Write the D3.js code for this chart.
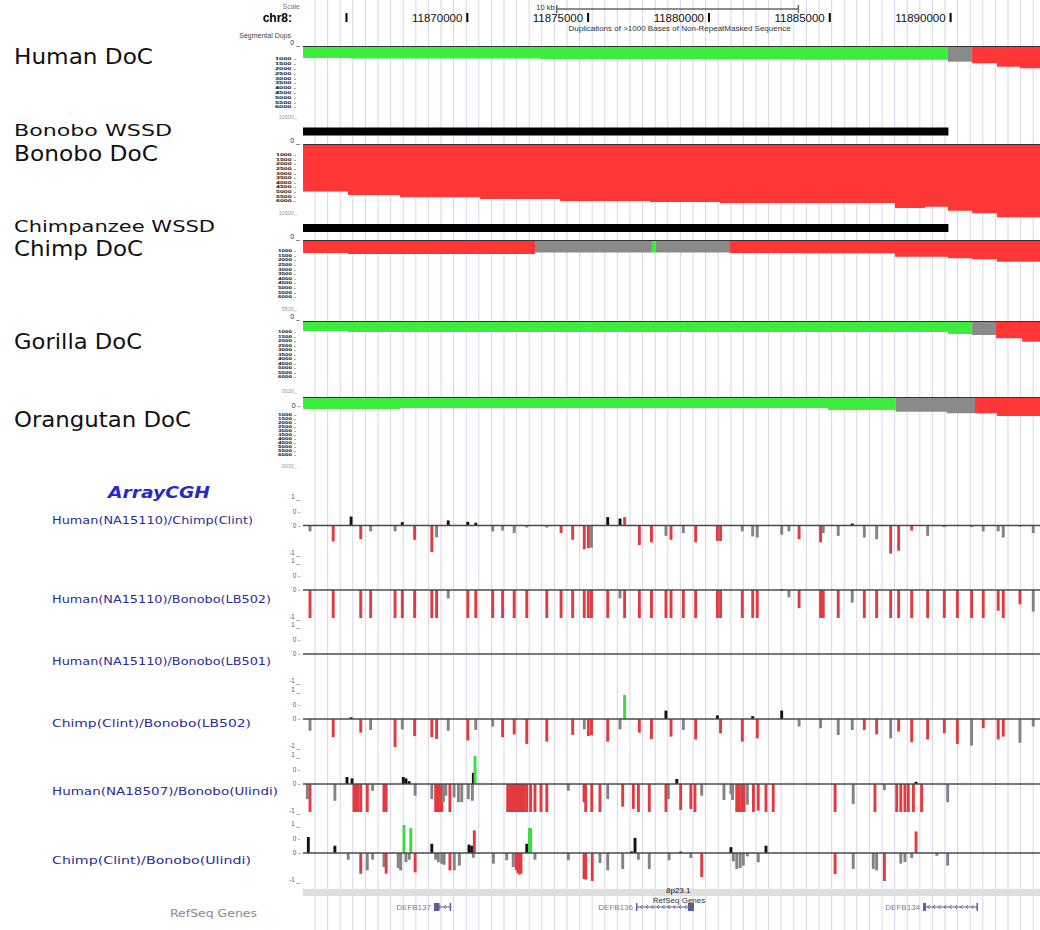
<!DOCTYPE html>
<html>
<head>
<meta charset="utf-8">
<script src="https://cdn.jsdelivr.net/npm/d3@7/dist/d3.min.js"></script>
<style>
  html, body { margin: 0; padding: 0; background: #fff; }
  svg { display: block; }
</style>
</head>
<body>
<svg id="chart" width="1040" height="930"></svg>
<script>
// ---------- browser window on chr8 (positions in kb) ----------
const viewStartKb = 11863.2;
const viewEndKb = 11893.7;
const axisTicksKb = [11865, 11870, 11875, 11880, 11885, 11890];
const axisTickLabels = ["", "11870000", "11875000", "11880000", "11885000", "11890000"];
const scaleBarKb = [11873.7, 11883.7];

// ---------- WSSD segmental duplication calls ----------
const bonoboWssd = [[11863.2, 11889.91]];
const chimpWssd = [[11863.2, 11889.91]];

// ---------- depth of coverage: step profile [start kb, depth] and calls ----------
const humanDocSteps = [[11863.2, 1200], [11865.15, 1250], [11873.01, 1300], [11879.63, 1350], [11883.77, 1380], [11889.89, 1570], [11890.89, 1730], [11891.92, 2070], [11892.87, 2230]];
const humanDocCalls = [[11863.2, 11889.89, "normal"], [11889.89, 11890.89, "mid"], [11890.89, 11893.7, "dup"]];

const bonoboDocSteps = [[11863.2, 4750], [11865.06, 5100], [11867.21, 5330], [11870.53, 5500], [11873.84, 5700], [11877.56, 5800], [11880.46, 5900], [11887.70, 6400], [11888.94, 6270], [11889.89, 6670], [11890.89, 6930], [11891.92, 7330]];
const bonoboDocCalls = [[11863.2, 11893.7, "dup"]];

const chimpDocSteps = [[11863.2, 1300], [11865.06, 1400], [11872.80, 1250], [11880.87, 1300], [11883.77, 1330], [11887.70, 1670], [11889.89, 1830], [11890.89, 1930], [11891.92, 2170]];
const chimpDocCalls = [[11863.2, 11872.80, "dup"], [11872.80, 11877.64, "mid"], [11877.64, 11877.79, "normal"], [11877.79, 11880.87, "mid"], [11880.87, 11893.7, "dup"]];

const gorillaDocSteps = [[11863.2, 1000], [11865.06, 1100], [11889.89, 1300], [11890.89, 1400], [11891.88, 1730], [11892.96, 2070]];
const gorillaDocCalls = [[11863.2, 11890.89, "normal"], [11890.89, 11891.88, "mid"], [11891.88, 11893.7, "dup"]];

const orangutanDocSteps = [[11863.2, 1200], [11867.21, 1100], [11884.93, 1300], [11887.73, 1470], [11889.84, 1630], [11891.92, 1900]];
const orangutanDocCalls = [[11863.2, 11887.73, "normal"], [11887.73, 11891.01, "mid"], [11891.01, 11893.7, "dup"]];

const docTickLabels = ["1000", "1500", "2000", "2500", "3000", "3500", "4000", "4500", "5000", "5500", "6000"];

// ---------- array CGH, platform 1 probes (kb) ----------
const probesA = [11863.49, 11864.45, 11865.19, 11865.59, 11866.00, 11867.01, 11867.31, 11867.82, 11868.53, 11868.73,
  11869.21, 11870.02, 11870.35, 11871.05, 11871.46, 11871.94, 11872.46, 11873.29, 11873.88, 11874.36,
  11874.84, 11875.01, 11875.14, 11875.81, 11876.32, 11876.51, 11877.12, 11877.62, 11878.22, 11878.43,
  11878.94, 11879.45, 11880.35, 11880.48, 11881.38, 11881.81, 11882.00, 11883.01, 11883.31, 11883.73,
  11884.62, 11884.73, 11885.35, 11885.93, 11886.43, 11886.94, 11887.52, 11887.85, 11888.39, 11889.05,
  11889.74, 11890.28, 11890.87, 11891.35, 11891.97, 11892.18, 11892.87, 11893.42];

// log2 ratios; calls: L = loss, G = gain, . = none
const humanChimpLog2 = [-0.21, -0.57, 0.32, -0.49, -0.21, -0.21, 0.12, -0.51, -0.95, -0.42,
  0.18, 0.13, 0.10, -0.21, -0.18, -0.27, -0.07, -0.07, -0.27, -0.51,
  -0.85, -0.81, -0.79, 0.30, 0.25, 0.30, -0.70, -0.60, -0.37, -0.51,
  -0.27, -0.60, -0.55, -0.55, -0.21, -0.39, -0.43, -0.33, -0.21, -0.49,
  -0.60, -0.27, -0.37, 0.07, -0.43, -0.49, -1.00, -0.90, -0.18, -0.37,
  -0.06, null, -0.06, -0.21, -0.21, -0.43, -0.04, -0.27];
const humanChimpCalls = ".L.L...LL.........LLLL...LLL.L.LLL.....LL.....LLL.........";

const humanLB502Log2 = [-1, -1, null, -1, -1, -1, -1, -1, -1, -1,
  -0.30, -1, -1, -1, -1, -1, -1, -1, -1, -1,
  -1, -1, -1, -1, -0.30, -1, -1, -1, -1, -1,
  -1, -1, -1, -1, -1, -1, -1, 0.02, -0.26, -0.65,
  -1, -1, -1, -0.45, -1, -1, -1, -1, -1, -1,
  -1, -1, -1, -1, -0.74, -1, -0.51, -0.77];
const humanLB502Calls = "LL.LLLLLLL.LLLLLLLLLLLLL.LLLLLLLLLLLL..LLLL.LLLLLLLLLLLLL.L";

const humanLB501Log2 = probesA.map(() => null);
const humanLB501Calls = "";

const chimpLB502Log2 = [-0.42, -0.65, 0.06, -0.49, -0.39, -1.00, -0.37, -0.61, -0.65, -0.71,
  -0.42, -0.77, -0.39, -0.27, -0.65, -0.55, -0.89, -0.81, null, -0.57,
  -0.37, -0.61, -0.58, -0.81, -0.37, 0.86, -0.49, -0.72, 0.30, -0.63,
  -0.39, -0.73, 0.13, -0.51, -0.81, 0.10, -0.69, 0.30, null, -0.27,
  -0.33, null, -0.57, -0.39, -0.39, -0.55, -0.69, -0.45, -0.83, -0.73,
  -0.51, -0.89, -0.95, -0.33, -0.73, -0.63, -0.85, -0.27];
const chimpLB502Calls = ".L.L.L.LLL.L..LLLL.L.LLL.GLL.L.L.LL.L....L..LL.LLLLL.LLL.";

// ---------- array CGH, platform 2 (Ulindi): [kb, log2, call] ----------
const humanUlindi = [[11863.38,-0.54,"."],[11863.49,-1,"L"],[11864.52,-0.6,"."],[11865.02,0.25,"."],[11865.23,0.2,"."],[11865.31,-1,"L"],[11865.39,-1,"L"],[11865.48,-1,"L"],[11865.59,-1,"L"],[11865.86,-1,"L"],[11866.08,-0.24,"."],[11866.55,-1,"L"],[11866.64,-1,"L"],[11867.35,0.25,"."],[11867.46,0.2,"."],[11867.59,0.1,"."],[11867.84,-0.42,"."],[11868.53,-0.54,"."],[11868.69,-1,"L"],[11868.77,-1,"L"],[11868.87,-1,"L"],[11868.94,-1,"L"],[11869.01,-0.65,"."],[11869.11,-0.42,"."],[11869.28,-1,"L"],[11869.45,-0.48,"."],[11869.63,-0.65,"."],[11869.77,-0.65,"."],[11870.04,-0.54,"."],[11870.21,-0.6,"."],[11870.25,0.4,"."],[11870.32,1,"G"],[11871.67,-1,"L"],[11871.77,-1,"L"],[11871.86,-1,"L"],[11871.94,-1,"L"],[11872.02,-1,"L"],[11872.11,-1,"L"],[11872.18,-1,"L"],[11872.28,-1,"L"],[11872.36,-1,"L"],[11872.46,-1,"L"],[11872.62,-1,"L"],[11872.80,-1,"L"],[11873.05,-1,"L"],[11873.29,-1,"L"],[11874.18,-0.24,"."],[11874.83,-0.65,"L"],[11874.90,-1,"L"],[11875.15,-1,"L"],[11875.49,-1,"L"],[11875.81,-0.54,"."],[11876.43,-0.81,"L"],[11876.87,-0.89,"L"],[11877.08,-1,"L"],[11877.53,-1,"L"],[11878.22,-1,"L"],[11878.32,-0.54,"."],[11878.67,0.18,"."],[11878.83,-0.93,"L"],[11879.25,-0.89,"L"],[11879.42,-1,"L"],[11879.70,-0.42,"."],[11880.62,-0.57,"."],[11880.91,-0.36,"."],[11880.98,-0.57,"."],[11881.15,-1,"L"],[11881.24,-1,"L"],[11881.35,-1,"L"],[11881.45,-1,"L"],[11881.59,-0.74,"."],[11881.84,-1,"L"],[11882.04,-0.95,"L"],[11882.36,-1,"L"],[11882.66,-1,"L"],[11885.22,-1,"L"],[11885.97,-0.71,"."],[11886.87,-1,"L"],[11887.26,-0.22,"."],[11887.77,-1,"L"],[11887.94,-1,"L"],[11888.11,-1,"L"],[11888.25,-1,"L"],[11888.46,-1,"L"],[11888.57,0.08,"."],[11888.80,-1,"L"],[11889.88,-0.65,"."]];

const chimpUlindi = [[11863.42,0.57,"."],[11864.52,0.26,"."],[11865.07,-0.24,"."],[11865.59,-0.74,"L"],[11865.86,-0.62,"."],[11866.08,-0.24,"."],[11866.55,-0.5,"."],[11866.64,-0.74,"L"],[11867.14,-0.54,"."],[11867.24,-0.62,"."],[11867.38,1,"G"],[11867.46,-0.33,"."],[11867.60,-0.24,"."],[11867.66,0.89,"G"],[11867.84,-0.69,"L"],[11868.53,0.33,"."],[11868.69,-0.24,"."],[11868.80,-0.33,"."],[11868.94,-0.38,"."],[11869.04,-0.42,"."],[11869.28,-0.62,"L"],[11869.46,-0.62,"."],[11869.67,-0.45,"."],[11870.07,0.3,"."],[11870.18,0.26,"."],[11870.25,-0.17,"."],[11870.29,0.81,"L"],[11871.08,-0.38,"."],[11871.63,-0.26,"."],[11871.90,-0.5,"."],[11872.02,-0.6,"L"],[11872.09,-0.71,"L"],[11872.15,-0.77,"L"],[11872.22,-0.74,"L"],[11872.46,0.33,"."],[11872.57,0.89,"G"],[11872.62,0.89,"G"],[11872.80,-0.24,"."],[11874.18,-0.26,"."],[11874.83,-0.93,"L"],[11874.90,-0.95,"L"],[11875.17,-1,"L"],[11875.49,-0.36,"."],[11875.81,-0.62,"."],[11876.43,-0.57,"."],[11876.80,0.06,"."],[11876.94,0.54,"."],[11877.08,-0.24,"."],[11877.53,-0.57,"."],[11878.35,-0.26,"."],[11878.83,0.05,"."],[11879.25,-0.18,"."],[11879.70,-0.86,"L"],[11880.91,0.21,"."],[11881.01,-0.3,"."],[11881.15,-0.57,"."],[11881.29,-0.54,"."],[11881.42,-0.45,"."],[11881.59,-0.12,"."],[11882.04,-0.33,"."],[11882.36,0.26,"."],[11885.22,-0.75,"L"],[11885.97,-0.57,"."],[11886.80,-0.57,"."],[11886.94,-0.62,"."],[11887.26,-1,"L"],[11887.94,-0.38,"."],[11888.11,-0.32,"."],[11888.39,-0.18,"."],[11888.57,0.77,"L"],[11889.43,-0.1,"."],[11889.88,-0.45,"."]];

const cghNames = ["Human(NA15110)/Chimp(Clint)", "Human(NA15110)/Bonobo(LB502)", "Human(NA15110)/Bonobo(LB501)",
  "Chimp(Clint)/Bonobo(LB502)", "Human(NA18507)/Bonobo(Ulindi)", "Chimp(Clint)/Bonobo(Ulindi)"];
const cghAxisLabels = ["1 _", "0 -", "0 -", "-1 _"];

// ---------- RefSeq genes: name, tx start, tx end, exons ----------
const genes = [
  { name: "DEFB137", start: 11868.62, end: 11869.33, exons: [[11868.62, 11868.85], [11869.27, 11869.33]] },
  { name: "DEFB136", start: 11876.98, end: 11879.38, exons: [[11876.98, 11877.03], [11879.13, 11879.38]] },
  { name: "DEFB134", start: 11888.86, end: 11891.13, exons: [[11888.86, 11888.98], [11891.07, 11891.13]] }
];

// ======================================================================
const svg = d3.select("#chart");
const x = d3.scaleLinear().domain([viewStartKb, viewEndKb]).range([303, 1040]);
const SANS = "'Liberation Sans', Arial, sans-serif";
const LABEL_FONT = "'DejaVu Sans', Verdana, sans-serif";

svg.append("defs").append("clipPath").attr("id", "data")
  .append("rect").attr("x", 303).attr("y", 0).attr("width", 737).attr("height", 930);

// vertical guidelines
const guides = svg.append("g").attr("stroke", "#d9d9ec").attr("stroke-width", 1.1);
d3.range(315, 1040, 12.6).forEach(gx => {
  guides.append("line").attr("x1", gx).attr("x2", gx).attr("y1", 0).attr("y2", 930);
});

// ---------- header: base position ruler ----------
const hdr = svg.append("g").attr("font-family", SANS);
hdr.append("text").attr("x", 300).attr("y", 9).attr("text-anchor", "end")
  .attr("font-size", 7).attr("fill", "#777").text("Scale");
hdr.append("text").attr("x", 292).attr("y", 22).attr("text-anchor", "end")
  .attr("font-size", 12).attr("font-weight", "bold").text("chr8:");
hdr.append("text").attr("x", 291).attr("y", 38).attr("text-anchor", "end")
  .attr("font-size", 7).attr("fill", "#444").text("Segmental Dups");
axisTicksKb.forEach((t, i) => {
  const tx = x(t);
  hdr.append("rect").attr("x", tx - 1).attr("y", 13).attr("width", 2).attr("height", 9).attr("fill", "#000");
  if (axisTickLabels[i]) {
    hdr.append("text").attr("x", tx - 5).attr("y", 22).attr("text-anchor", "end")
      .attr("font-size", 11.5).attr("fill", "#111").text(axisTickLabels[i]);
  }
});
const sb0 = x(scaleBarKb[0]), sb1 = x(scaleBarKb[1]);
hdr.append("line").attr("x1", sb0).attr("x2", sb1).attr("y1", 9).attr("y2", 9).attr("stroke", "#666").attr("stroke-width", 1.5);
[sb0, sb1].forEach(sx => hdr.append("line").attr("x1", sx).attr("x2", sx).attr("y1", 5).attr("y2", 13).attr("stroke", "#666").attr("stroke-width", 1.5));
hdr.append("text").attr("x", sb0 - 2).attr("y", 10).attr("text-anchor", "end").attr("font-size", 7.5).attr("fill", "#333").text("10 kb");
hdr.append("text").attr("x", (sb0 + sb1) / 2 + 2).attr("y", 31).attr("text-anchor", "middle")
  .attr("font-size", 8).attr("fill", "#333").text("Duplications of >1000 Bases of Non-RepeatMasked Sequence");

// ---------- big left labels ----------
const bigLabels = [
  { t: "Human DoC", y: 64, s: 21, w: 139 },
  { t: "Bonobo WSSD", y: 136, s: 16, w: 158 },
  { t: "Bonobo DoC", y: 161, s: 21, w: 144 },
  { t: "Chimpanzee WSSD", y: 232, s: 16, w: 201 },
  { t: "Chimp DoC", y: 256, s: 21, w: 129 },
  { t: "Gorilla DoC", y: 349, s: 21, w: 128 },
  { t: "Orangutan DoC", y: 427, s: 21, w: 177 }
];
bigLabels.forEach(d => {
  svg.append("text").attr("x", 14).attr("y", d.y).attr("font-family", LABEL_FONT)
    .attr("font-size", d.s).attr("fill", "#111")
    .attr("textLength", d.w).attr("lengthAdjust", "spacingAndGlyphs").text(d.t);
});

// ---------- WSSD bars ----------
const dataG = svg.append("g").attr("clip-path", "url(#data)");
[[bonoboWssd, 127.5], [chimpWssd, 224]].forEach(([segs, y0]) => {
  segs.forEach(([a, b]) => {
    dataG.append("rect").attr("x", x(a)).attr("width", x(b) - x(a)).attr("y", y0).attr("height", 8).attr("fill", "#000");
  });
});

// ---------- depth-of-coverage tracks ----------
const docColor = { normal: "#3ded3d", mid: "#8a8a8a", dup: "#ff3636" };
const docTracks = [
  { steps: humanDocSteps, calls: humanDocCalls, top: 46, zeroY: 45, zeroTxt: "0 _", labTop: 57, labGap: 4.8, labW: 21, bottomY: 119, bottomTxt: "10000_" },
  { steps: bonoboDocSteps, calls: bonoboDocCalls, top: 144, zeroY: 143, zeroTxt: "0 _", labTop: 153, labGap: 4.6, labW: 20, bottomY: 215, bottomTxt: "10000_" },
  { steps: chimpDocSteps, calls: chimpDocCalls, top: 240, zeroY: 239, zeroTxt: "0 _", labTop: 249, labGap: 4.6, labW: 18, bottomY: 311, bottomTxt: "5530_" },
  { steps: gorillaDocSteps, calls: gorillaDocCalls, top: 321, zeroY: 319, zeroTxt: "0 _", labTop: 330, labGap: 4.5, labW: 18, bottomY: 393, bottomTxt: "0030_" },
  { steps: orangutanDocSteps, calls: orangutanDocCalls, top: 397, zeroY: 408, zeroTxt: "0 -", labTop: 413, labGap: 4.0, labW: 18, bottomY: 468, bottomTxt: "0030_" }
];
const readsToPx = 0.01;
docTracks.forEach(tr => {
  const yDepth = v => tr.top + v * readsToPx;
  const area = d3.area().curve(d3.curveStepAfter)
    .x(d => x(d[0])).y0(tr.top).y1(d => yDepth(d[1]));
  tr.calls.forEach(([a, b, cls]) => {
    let cur = tr.steps[0][1];
    tr.steps.forEach(([p, v]) => { if (p <= a) cur = v; });
    const pts = [[a, cur]];
    tr.steps.forEach(([p, v]) => { if (p > a && p < b) { pts.push([p, v]); cur = v; } });
    pts.push([b, cur]);
    dataG.append("path").attr("d", area(pts)).attr("fill", docColor[cls]);
  });
  dataG.append("line").attr("x1", 303).attr("x2", 1040).attr("y1", tr.top + 0.5).attr("y2", tr.top + 0.5)
    .attr("stroke", "#333").attr("stroke-width", 1);
  // axis labels
  const lab = svg.append("g").attr("font-family", SANS).attr("text-anchor", "end");
  lab.append("text").attr("x", 300).attr("y", tr.zeroY).attr("font-size", 7).attr("fill", "#222").text(tr.zeroTxt);
  const fs = tr.labGap * 0.84;
  docTickLabels.forEach((t, i) => {
    lab.append("text").attr("x", 296).attr("y", tr.labTop + i * tr.labGap + fs * 0.85)
      .attr("font-size", fs).attr("font-weight", "bold").attr("fill", "#111")
      .attr("textLength", tr.labW).attr("lengthAdjust", "spacingAndGlyphs").text(t + " -");
  });
  lab.append("text").attr("x", 297).attr("y", tr.bottomY).attr("font-size", 5.5).attr("fill", "#999").text(tr.bottomTxt);
});

// ---------- Array CGH ----------
svg.append("text").attr("x", 108).attr("y", 498).attr("font-family", LABEL_FONT)
  .attr("font-size", 16).attr("font-weight", "bold").attr("font-style", "italic")
  .attr("fill", "#2828c8").attr("textLength", 102).attr("lengthAdjust", "spacingAndGlyphs").text("ArrayCGH");

const toTriples = (vals, calls) => probesA.map((p, i) => [p, vals[i], calls[i] || "."]).filter(d => d[1] !== null);
const cghTracks = [
  { probes: toTriples(humanChimpLog2, humanChimpCalls), base: 525.5, labY: 524, labW: 201 },
  { probes: toTriples(humanLB502Log2, humanLB502Calls), base: 590, labY: 603, labW: 219 },
  { probes: toTriples(humanLB501Log2, humanLB501Calls), base: 654, labY: 665, labW: 219 },
  { probes: toTriples(chimpLB502Log2, chimpLB502Calls), base: 719, labY: 727, labW: 199 },
  { probes: humanUlindi, base: 784, labY: 795, labW: 226 },
  { probes: chimpUlindi, base: 853, labY: 864, labW: 199 }
];
const cghColor = { L: "#e23a3f", G: "#3ade3a" };
const probeHalfKb = 0.06;
cghTracks.forEach((tr, ti) => {
  const y = d3.scaleLinear().domain([-1, 1]).range([tr.base + 28, tr.base - 28]);
  tr.probes.forEach(([p, v, c]) => {
    const fill = cghColor[c] || (v >= 0 ? "#111" : "#838383");
    const y0 = y(0), y1 = y(v);
    dataG.append("rect")
      .attr("x", x(p - probeHalfKb)).attr("width", x(p + probeHalfKb) - x(p - probeHalfKb))
      .attr("y", Math.min(y0, y1)).attr("height", Math.max(1, Math.abs(y1 - y0)))
      .attr("fill", fill);
  });
  dataG.append("line").attr("x1", 303).attr("x2", 1040).attr("y1", y(0)).attr("y2", y(0))
    .attr("stroke", "#4a4a4a").attr("stroke-width", 1.5);
  const ax = svg.append("g").attr("font-family", SANS).attr("font-size", 6.3).attr("fill", "#555").attr("text-anchor", "end");
  const axisVals = [1, 0.5, 0, -1];
  axisVals.forEach((v, i) => {
    ax.append("text").attr("x", 300).attr("y", y(v) + (i === 0 || i === 3 ? 1 : 2)).text(cghAxisLabels[i]);
  });
  svg.append("text").attr("x", 52).attr("y", tr.labY).attr("font-family", LABEL_FONT)
    .attr("font-size", 10.5).attr("fill", "#2c2c96")
    .attr("textLength", tr.labW).attr("lengthAdjust", "spacingAndGlyphs").text(cghNames[ti]);
});

// ---------- RefSeq genes ----------
dataG.append("rect").attr("x", 303).attr("y", 889).attr("width", 737).attr("height", 7).attr("fill", "#dedede");
svg.append("text").attr("x", 666).attr("y", 893).attr("font-family", SANS).attr("font-size", 8).attr("fill", "#111").text("8p23.1");
svg.append("text").attr("x", 679).attr("y", 903).attr("text-anchor", "middle").attr("font-family", SANS)
  .attr("font-size", 8).attr("fill", "#333").text("RefSeq Genes");
svg.append("text").attr("x", 257).attr("y", 917).attr("text-anchor", "end").attr("font-family", LABEL_FONT)
  .attr("font-size", 11).attr("fill", "#8a8a8a").attr("textLength", 87).attr("lengthAdjust", "spacingAndGlyphs").text("RefSeq Genes");

const geneColor = "#5d5d9c";
const geneY = 907;
genes.forEach(g => {
  const x0 = x(g.start), x1 = x(g.end);
  dataG.append("line").attr("x1", x0).attr("x2", x1).attr("y1", geneY).attr("y2", geneY).attr("stroke", geneColor).attr("stroke-width", 1);
  for (let cx = x0 + 5; cx < x1 - 4; cx += 5.5) {
    dataG.append("path").attr("d", `M${cx + 1.5},${geneY - 2} L${cx - 0.5},${geneY} L${cx + 1.5},${geneY + 2}`)
      .attr("fill", "none").attr("stroke", geneColor).attr("stroke-width", 0.9);
  }
  g.exons.forEach(([a, b]) => {
    dataG.append("rect").attr("x", x(a)).attr("width", Math.max(1.5, x(b) - x(a)))
      .attr("y", geneY - 4).attr("height", 8).attr("fill", geneColor);
  });
  svg.append("text").attr("x", x0 - 3).attr("y", geneY + 3).attr("text-anchor", "end")
    .attr("font-family", SANS).attr("font-size", 8).attr("fill", "#7b7bab").text(g.name);
});
</script>
</body>
</html>
